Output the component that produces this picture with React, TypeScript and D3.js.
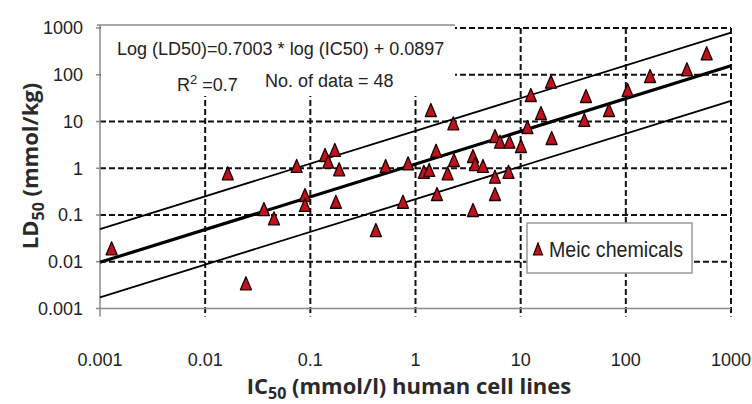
import React from "react";
import * as d3 from "d3";

// ---- data ----
const ic50: number[] = [
  0.00129, 0.0164, 0.0244, 0.0362, 0.0451, 0.0741, 0.0889, 0.0889, 0.138, 0.171,
  0.148, 0.188, 0.175, 0.42, 0.52, 0.76, 0.85, 1.4, 2.29, 1.2,
  1.35, 1.57, 1.6, 2.02, 2.32, 3.52, 3.68, 4.38, 3.52, 5.7,
  6.36, 7.83, 10.07, 5.7, 5.7, 7.66, 11.6, 12.5, 15.6, 19.4,
  19.7, 40.3, 41.8, 69.2, 104, 170, 381, 587,
];
const ld50: number[] = [
  0.0194, 0.78, 0.00346, 0.134, 0.085, 1.12, 0.268, 0.164, 1.92, 2.46,
  1.38, 0.95, 0.192, 0.0477, 1.12, 0.192, 1.28, 17.6, 9.15, 0.84,
  0.92, 2.37, 0.281, 0.78, 1.5, 1.83, 1.23, 1.12, 0.128, 4.9,
  3.7, 3.7, 2.99, 0.66, 0.281, 0.84, 7.62, 36.9, 15.2, 71.0,
  4.44, 10.8, 35.1, 17.6, 47.2, 94.0, 131, 288,
];
const tickValues: number[] = [0.001, 0.01, 0.1, 1, 10, 100, 1000];
const tickLabels: string[] = ["0.001", "0.01", "0.1", "1", "10", "100", "1000"];
const slope = 0.7003;
const intercept = 0.0897;
const bandOffsets: number[] = [0.71, -0.75];
const legendLabel = "Meic chemicals";
const eqText = "Log (LD50)=0.7003 * log (IC50) + 0.0897";
const nText = "No. of data = 48";

const W = 752;
const H = 404;
const x = d3.scaleLog().domain([0.001, 1000]).range([100, 731]);
const y = d3.scaleLog().domain([0.001, 1000]).range([308.5, 28]);

const tri = (cx: number, cy: number, w: number, h: number) =>
  `M${cx},${cy - h / 2}L${cx + w / 2},${cy + h / 2}L${cx - w / 2},${cy + h / 2}Z`;

export default function App() {
  const xsLine = [0.001, 1000];
  const fit = (off: number) => (v: number) => Math.pow(10, slope * Math.log10(v) + intercept + off);
  const mkLine = (off: number) =>
    d3
      .line<number>()
      .x((d) => x(d))
      .y((d) => y(fit(off)(d)))(xsLine) as string;

  const dash = "6,3";
  const gridColor = "#111";
  const axisColor = "#8a8a8a";
  const textColor = "#222";
  const tickFont = "'Liberation Sans', Arial, sans-serif";
  const titleFont = "'Open Sans', 'Noto Sans', sans-serif";

  return (
    <svg
      width={W}
      height={H}
      viewBox={`0 0 ${W} ${H}`}
      style={{ position: "absolute", left: 0, top: 0, background: "#fff" }}
    >
      <rect x={0} y={0} width={W} height={H} fill="#fff" />
      {/* vertical grid lines */}
      {tickValues.slice(1).map((v) => (
        <line
          key={"vg" + v}
          x1={x(v)}
          x2={x(v)}
          y1={y(1000)}
          y2={y(0.001) + 8}
          stroke={gridColor}
          strokeWidth={2}
          strokeDasharray={dash}
        />
      ))}
      {/* horizontal grid lines */}
      {tickValues.slice(1).map((v) => (
        <line
          key={"hg" + v}
          x1={x(0.001)}
          x2={x(1000)}
          y1={y(v)}
          y2={y(v)}
          stroke={gridColor}
          strokeWidth={2}
          strokeDasharray={dash}
        />
      ))}
      {/* annotation box */}
      <rect x={101} y={25} width={354} height={71} fill="#fff" />
      <line x1={97} x2={455} y1={25} y2={25} stroke={axisColor} strokeWidth={1.5} />
      {/* axes */}
      <line x1={x(0.001)} x2={x(0.001)} y1={25} y2={y(0.001)} stroke={axisColor} strokeWidth={1.5} />
      <line x1={x(0.001)} x2={x(1000)} y1={y(0.001)} y2={y(0.001)} stroke={axisColor} strokeWidth={1.5} />
      {tickValues.map((v) => (
        <line key={"yt" + v} x1={x(0.001) - 4} x2={x(0.001)} y1={y(v)} y2={y(v)} stroke={axisColor} strokeWidth={1.5} />
      ))}
      <line x1={x(0.001)} x2={x(0.001)} y1={y(0.001)} y2={y(0.001) + 8} stroke={axisColor} strokeWidth={1.5} />
      {/* regression + band lines */}
      <path d={mkLine(0)} stroke="#000" strokeWidth={3.2} fill="none" />
      {bandOffsets.map((o) => (
        <path key={"b" + o} d={mkLine(o)} stroke="#000" strokeWidth={1.8} fill="none" />
      ))}
      {/* points */}
      {ic50.map((v, i) => (
        <path
          key={"p" + i}
          d={tri(x(v), y(ld50[i]), 11, 13)}
          fill="#c0111c"
          stroke="#1a0000"
          strokeWidth={1.3}
          strokeLinejoin="round"
        />
      ))}
      {/* y tick labels */}
      {tickValues.map((v, i) => (
        <text
          key={"yl" + v}
          x={83}
          y={y(v)}
          dy="0.36em"
          textAnchor="end"
          fontFamily={tickFont}
          fontSize={18}
          fill={textColor}
        >
          {tickLabels[i]}
        </text>
      ))}
      {/* x tick labels */}
      {tickValues.map((v, i) => (
        <text
          key={"xl" + v}
          x={x(v)}
          y={366}
          textAnchor="middle"
          fontFamily={tickFont}
          fontSize={18}
          fill={textColor}
        >
          {tickLabels[i]}
        </text>
      ))}
      {/* annotation text */}
      <text x={117} y={55} fontFamily={tickFont} fontSize={18} fill={textColor}>
        {eqText}
      </text>
      <text x={177} y={91} fontFamily={tickFont} fontSize={18} fill={textColor}>
        <tspan>R</tspan>
        <tspan dy={-7} fontSize={13}>2</tspan>
        <tspan dy={7}> =0.7</tspan>
      </text>
      <text x={265} y={87} fontFamily={tickFont} fontSize={18} fill={textColor}>
        {nText}
      </text>
      {/* legend */}
      <rect x={527} y={223} width={165} height={50} fill="#fff" stroke="#9a9a9a" strokeWidth={1.5} />
      <path d={tri(538, 249, 9, 12)} fill="#c0111c" stroke="#1a0000" strokeWidth={1.2} />
      <text x={549} y={257} fontFamily={tickFont} fontSize={22} textLength={134} lengthAdjust="spacingAndGlyphs" fill={textColor}>
        {legendLabel}
      </text>
      {/* axis titles */}
      <text x={409} y={394} textAnchor="middle" fontFamily={titleFont} fontWeight={700} fontSize={22} fill="#2a2a2a">
        <tspan>IC</tspan>
        <tspan dy={5} fontSize={16}>50</tspan>
        <tspan dy={-5}> (mmol/l) human cell lines</tspan>
      </text>
      <text
        transform={`translate(38,166) rotate(-90)`}
        textAnchor="middle"
        fontFamily={titleFont}
        fontWeight={700}
        fontSize={22}
        fill="#2a2a2a"
      >
        <tspan>LD</tspan>
        <tspan dy={6} fontSize={16}>50</tspan>
        <tspan dy={-6}> (mmol/kg)</tspan>
      </text>
    </svg>
  );
}
